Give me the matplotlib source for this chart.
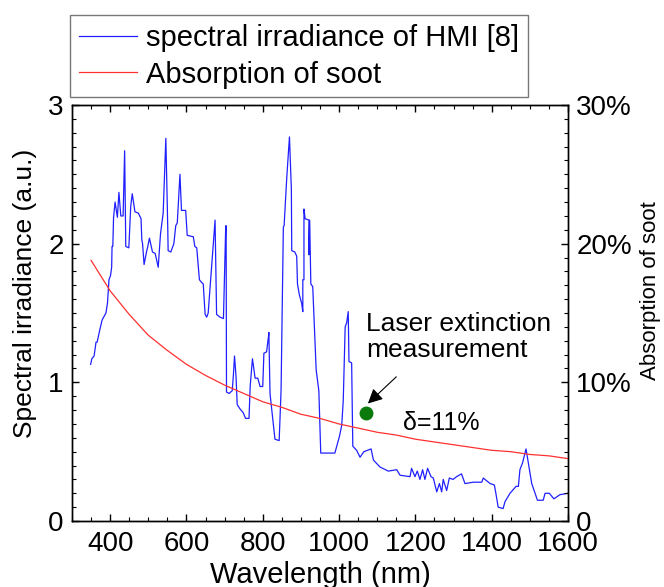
import matplotlib
matplotlib.use("Agg")
import matplotlib.pyplot as plt
from matplotlib.ticker import MultipleLocator, FuncFormatter

plt.rcParams['font.family'] = ['Liberation Sans', 'DejaVu Sans']

# Spectral irradiance of the HMI lamp (a.u.) vs wavelength (nm)
wavelength = [349, 352, 358, 363, 366, 373, 379, 389, 393, 397, 401, 404, 405, 407,
              409, 413, 419, 423, 428, 434, 438, 441, 449, 454, 458, 465, 474, 481,
              483, 485, 489, 496, 498, 503, 511, 518, 526, 532, 539, 546, 551, 552,
              559, 567, 572, 576, 583, 587, 598, 602, 618, 622, 627, 634, 640, 644,
              649, 653, 657, 675, 679, 688, 697, 703, 704, 705, 712, 720, 723, 726,
              730, 733, 740, 749, 755, 764, 767, 773, 780, 787, 793, 800, 803, 810,
              815, 816, 819, 823, 832, 843, 848, 854, 856, 863, 870, 875, 876, 884,
              889, 891, 896, 902, 905, 905, 908, 908, 911, 921, 921, 923, 926, 931,
              940, 947, 952, 989, 1001, 1007, 1011, 1016, 1020, 1024, 1026, 1033,
              1036, 1046, 1055, 1065, 1084, 1090, 1107, 1129, 1151, 1160, 1186, 1190,
              1199, 1205, 1212, 1219, 1225, 1232, 1241, 1247, 1256, 1263, 1269, 1273,
              1282, 1289, 1299, 1308, 1321, 1330, 1352, 1374, 1378, 1396, 1407, 1411,
              1417, 1430, 1435, 1448, 1464, 1470, 1474, 1481, 1490, 1496, 1505, 1520,
              1535, 1540, 1551, 1563, 1579, 1600]
irradiance = [1.13, 1.17, 1.19, 1.29, 1.29, 1.38, 1.45, 1.50, 1.57, 1.74, 1.77, 1.83,
              1.98, 1.98, 2.19, 2.30, 2.19, 2.37, 2.20, 2.20, 2.67, 1.98, 1.97, 2.27,
              2.36, 2.23, 2.22, 2.18, 2.03, 2.00, 1.85, 1.95, 1.97, 2.04, 1.94, 1.93,
              1.83, 2.07, 2.22, 2.76, 2.12, 1.95, 1.94, 2.00, 2.13, 2.15, 2.50, 2.24,
              2.24, 2.06, 2.05, 1.98, 1.97, 1.74, 1.72, 1.71, 1.49, 1.47, 1.50, 2.17,
              1.49, 1.47, 1.46, 2.13, 2.13, 0.93, 0.92, 0.94, 1.05, 1.19, 1.04, 0.84,
              0.81, 0.78, 0.74, 0.74, 0.97, 1.17, 1.03, 1.03, 0.97, 0.97, 1.21, 1.22,
              1.33, 1.36, 0.92, 0.82, 0.59, 0.58, 0.94, 2.12, 2.13, 2.48, 2.77, 2.39,
              1.95, 1.94, 1.91, 1.71, 1.63, 1.57, 1.51, 1.74, 1.74, 2.25, 2.18, 2.17,
              1.92, 2.17, 1.71, 1.69, 1.09, 0.94, 0.49, 0.49, 0.61, 0.69, 0.87, 1.40,
              1.43, 1.51, 1.15, 1.14, 0.54, 0.51, 0.46, 0.50, 0.52, 0.44, 0.39, 0.36,
              0.37, 0.33, 0.32, 0.38, 0.32, 0.36, 0.30, 0.37, 0.30, 0.38, 0.32, 0.31,
              0.21, 0.27, 0.21, 0.30, 0.22, 0.31, 0.30, 0.32, 0.34, 0.27, 0.28, 0.28,
              0.31, 0.27, 0.26, 0.20, 0.10, 0.09, 0.14, 0.20, 0.25, 0.25, 0.37, 0.42,
              0.52, 0.42, 0.27, 0.15, 0.15, 0.20, 0.20, 0.16, 0.19, 0.20]

# Absorption of soot (%) vs wavelength (nm)
soot_wavelength = [350, 400, 450, 500, 550, 600, 650, 700, 750, 800, 850, 900, 950,
                   1000, 1050, 1100, 1150, 1200, 1250, 1300, 1350, 1400, 1450, 1500,
                   1550, 1600]
soot_absorption = [18.8, 16.6, 14.9, 13.4, 12.3, 11.3, 10.5, 9.8, 9.2, 8.6, 8.2, 7.7,
                   7.4, 7.0, 6.7, 6.4, 6.2, 5.9, 5.7, 5.5, 5.3, 5.1, 5.0, 4.8, 4.7, 4.5]

# Laser extinction measurement point
laser_wavelength = 1070
laser_absorption = 7.8

fig = plt.figure(figsize=(6.64, 5.87), dpi=100)
ax = fig.add_axes([0.1084, 0.1124, 0.747, 0.7087])
ax2 = ax.twinx()

l1, = ax.plot(wavelength, irradiance, color='#2020ff', lw=0.9,
              label='spectral irradiance of HMI [8]')
l2, = ax2.plot(soot_wavelength, soot_absorption, color='#ff3030', lw=0.9,
               label='Absorption of soot')
ax2.plot([laser_wavelength], [laser_absorption], 'o', color='#0a7a0a', ms=9)

ax.set_xlim(300, 1600)
ax.set_ylim(0, 3)
ax2.set_ylim(0, 30)

ax.xaxis.set_major_locator(MultipleLocator(200))
ax.xaxis.set_minor_locator(MultipleLocator(50))
ax.yaxis.set_major_locator(MultipleLocator(1))
ax.yaxis.set_minor_locator(MultipleLocator(0.1))
ax2.yaxis.set_major_locator(MultipleLocator(10))
ax2.yaxis.set_minor_locator(MultipleLocator(1))
ax2.yaxis.set_major_formatter(FuncFormatter(lambda v, p: '0' if v == 0 else f'{v:.0f}%'))
ax.set_xticks([400, 600, 800, 1000, 1200, 1400, 1600])

ax.tick_params(axis='x', which='both', direction='in', top=True, labelsize=20, pad=7)
ax.tick_params(axis='y', which='both', direction='in', right=False, labelsize=20, pad=6)
ax.tick_params(which='major', length=5, width=1)
ax.tick_params(which='minor', length=3, width=0.8)
ax2.tick_params(axis='y', which='both', direction='in', labelsize=20, pad=6)
ax2.tick_params(which='major', length=5, width=1)
ax2.tick_params(which='minor', length=3, width=0.8)
for a in (ax, ax2):
    for s in a.spines.values():
        s.set_linewidth(1.0)

ax.set_xlabel('Wavelength (nm)', fontsize=21, labelpad=3)
ax.set_ylabel('Spectral irradiance (a.u.)', fontsize=19, va='center')
ax.yaxis.set_label_coords(-0.095, 0.548)
ax2.set_ylabel('Absorption of soot', fontsize=16, va='center')
ax2.yaxis.set_label_coords(1.167, 0.555)

ax2.annotate('', xy=(laser_wavelength - 5, laser_absorption + 0.4),
             xytext=(1150, 10.4),
             arrowprops=dict(arrowstyle='-|>', color='black', lw=0.8,
                             mutation_scale=22, shrinkA=0, shrinkB=4))
ax2.text(1070, 13.3, 'Laser extinction\nmeasurement', fontsize=19,
         ha='left', va='center', linespacing=1.1)
ax2.text(1167, 7.05, 'δ=11%', fontsize=18, ha='left', va='center')

leg = fig.legend(handles=[l1, l2], loc='upper left',
                 bbox_to_anchor=(0.1054, 0.9744), fontsize=21, frameon=True,
                 fancybox=False, edgecolor='#555555', handlelength=2.0,
                 handletextpad=0.3, borderpad=0.3, labelspacing=0.3,
                 borderaxespad=0)
leg.get_frame().set_linewidth(1.0)

fig.savefig('out.png', dpi=100)
